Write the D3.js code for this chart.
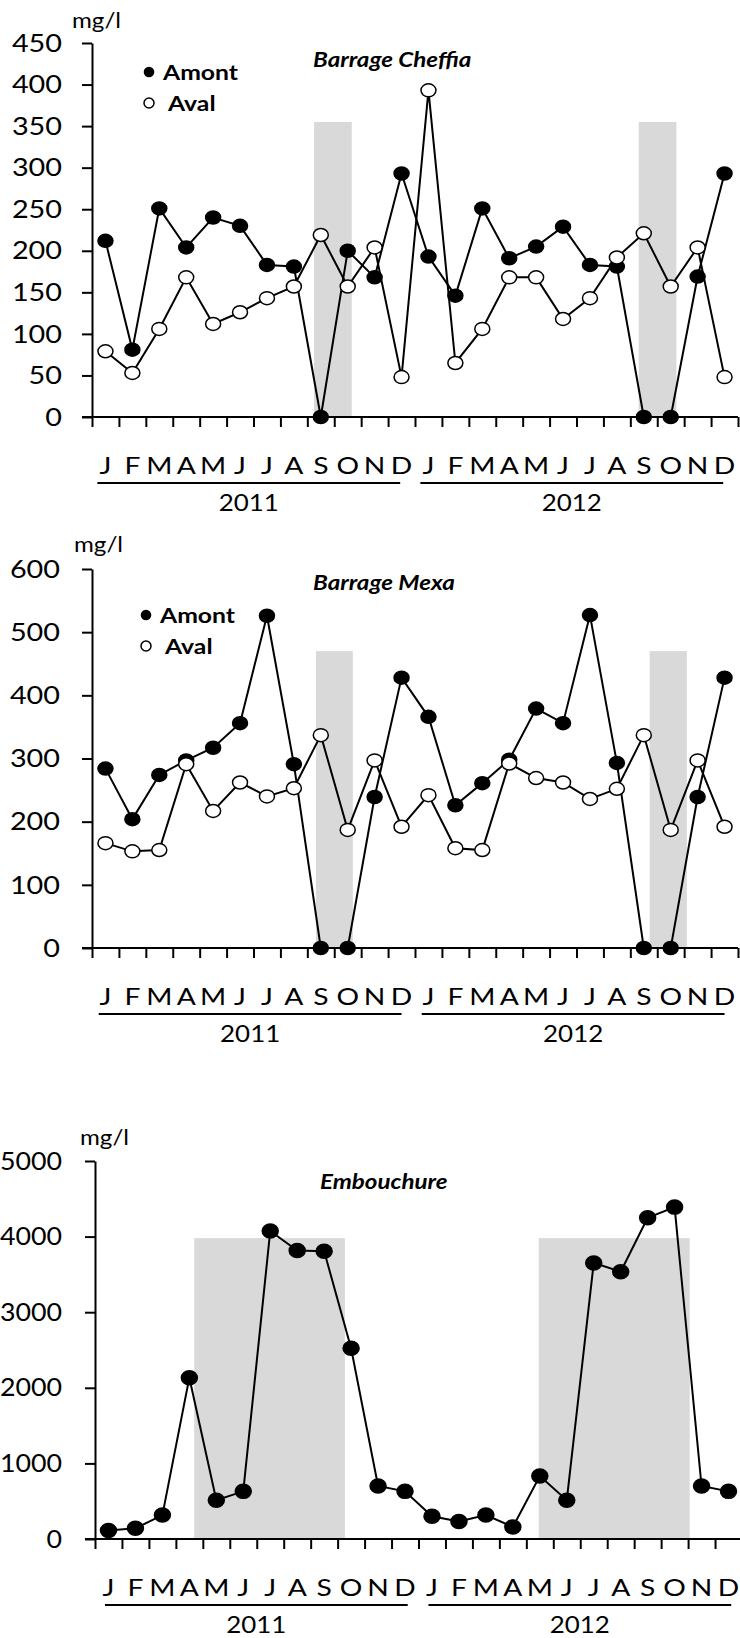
<!DOCTYPE html>
<html>
<head>
<meta charset="utf-8">
<script src="https://cdn.jsdelivr.net/npm/d3@7"></script>
<style>
  body { margin: 0; background: #fff; }
  svg { display: block; font-family: Lato, "Open Sans", sans-serif; }
</style>
</head>
<body>
<script>
// values, mg/l, J 2011 .. D 2012
var months = ["J", "F", "M", "A", "M", "J", "J", "A", "S", "O", "N", "D"];
var years = ["2011", "2012"];

var cheffiaAmont = [212, 81, 251, 204, 240, 230, 183, 181, 0, 200, 168, 293,
                    193, 146, 251, 191, 205, 229, 183, 181, 0, 0, 169, 293];
var cheffiaAval = [79, 53, 106, 168, 112, 126, 143, 157, 219, 157, 204, 48,
                   393, 65, 106, 168, 168, 118, 143, 192, 221, 157, 204, 48];

var mexaAmont = [284, 204, 274, 297, 317, 356, 526, 291, 0, 0, 239, 428,
                 366, 226, 261, 298, 379, 356, 527, 293, 0, 0, 239, 428];
var mexaAval = [166, 153, 155, 291, 217, 262, 240, 253, 337, 187, 297, 192,
                242, 158, 155, 292, 269, 262, 236, 252, 337, 187, 297, 192];

var embouchure = [113, 141, 316, 2134, 513, 630, 4074, 3816, 3807, 2524, 701, 630,
                  301, 231, 316, 160, 832, 513, 3652, 3535, 4249, 4390, 701, 630];

// grey periods: [from month, to month, height in mg/l]
var cheffiaShade = [[8.25, 9.65, 355], [20.31, 21.71, 355]];
var mexaShade = [[8.32, 9.69, 470], [20.72, 22.1, 470]];
var embShade = [[3.68, 9.27, 3980], [16.46, 22.06, 3980]];

var cheffiaTicks = [0, 50, 100, 150, 200, 250, 300, 350, 400, 450];
var mexaTicks = [0, 100, 200, 300, 400, 500, 600];
var embTicks = [0, 1000, 2000, 3000, 4000, 5000];

var SX = 1.15; // the source figure is a bit stretched sideways

var svg = d3.select("body").append("svg")
  .attr("width", 740)
  .attr("height", 1638);

function label(g, txt, x, y, size, anchor, weight, style, sx) {
  return g.append("text")
    .attr("transform", `translate(${x},${y}) scale(${sx || SX},1)`)
    .attr("font-size", size)
    .attr("text-anchor", anchor || "start")
    .attr("font-weight", weight || "normal")
    .attr("font-style", style || "normal")
    .attr("fill", "#000")
    .text(txt);
}

function panel(o) {
  var g = svg.append("g");
  var x = d3.scaleLinear().domain([0, 24]).range([o.x0, o.x1]);
  var y = d3.scaleLinear().domain([0, o.max]).range([o.yBase, o.yTop]);

  // shaded periods
  g.selectAll("rect.shade")
    .data(o.shade)
    .enter()
    .append("rect")
    .attr("class", "shade")
    .attr("x", d => x(d[0]))
    .attr("width", d => x(d[1]) - x(d[0]))
    .attr("y", d => y(d[2]))
    .attr("height", d => y(0) - y(d[2]))
    .attr("fill", "#d9d9d9");

  // y axis
  var yAxis = d3.axisLeft(y)
    .tickValues(o.ticks)
    .tickFormat(d3.format("d"))
    .tickSize(10)
    .tickSizeOuter(0);
  var ya = g.append("g")
    .attr("transform", `translate(${o.x0},0)`)
    .call(yAxis);
  ya.selectAll("path, line").attr("stroke", "#000").attr("stroke-width", 2);
  ya.selectAll("text")
    .attr("font-size", 25.5)
    .attr("font-family", "Lato, sans-serif")
    .attr("fill", "#000")
    .attr("x", -o.pad / o.tsx)
    .attr("transform", `scale(${o.tsx},1)`);

  // x axis, one tick between each month
  var xAxis = d3.axisBottom(x).tickValues(d3.range(25)).tickSize(10).tickFormat("");
  var xa = g.append("g")
    .attr("transform", `translate(0,${o.yBase})`)
    .call(xAxis);
  xa.select(".domain").attr("d", `M${o.x0 - 10},0H${o.x1}`);
  xa.selectAll("path, line").attr("stroke", "#000").attr("stroke-width", 2);

  // month letters, year underline and year
  for (var k = 0; k < 24; k++) {
    label(g, months[k % 12], x(k + 0.5), o.yBase + 57, 23.5, "middle", "normal", "normal", 1.2);
  }
  years.forEach(function(yr, j) {
    var a = x(j * 12 + o.ul[0]), b = x(j * 12 + o.ul[1]);
    g.append("line")
      .attr("x1", a).attr("x2", b)
      .attr("y1", o.yBase + 66).attr("y2", o.yBase + 66)
      .attr("stroke", "#000").attr("stroke-width", 2);
    label(g, yr, (a + b) / 2, o.yBase + 94, 24, "middle", "normal", "normal", 1.08);
  });

  label(g, "mg/l", o.mg[0], o.mg[1], 21);
  label(g, o.title, o.titleAt[0], o.titleAt[1], 21, "start", "bold", "italic");

  // lines then markers
  var line = d3.line().x((d, i) => x(i + 0.5)).y(d => y(d));
  o.series.forEach(function(s) {
    g.append("path")
      .datum(s.values)
      .attr("d", line)
      .attr("fill", "none")
      .attr("stroke", "#000")
      .attr("stroke-width", 2);
  });
  o.series.forEach(function(s) {
    g.selectAll(null)
      .data(s.values)
      .enter()
      .append("ellipse")
      .attr("cx", (d, i) => x(i + 0.5))
      .attr("cy", d => y(d))
      .attr("rx", o.rx)
      .attr("ry", o.ry)
      .attr("fill", s.filled ? "#000" : "#fff")
      .attr("stroke", "#000")
      .attr("stroke-width", 1.5);
  });

  // legend
  if (o.legend) {
    var L = o.legend;
    g.append("circle").attr("cx", L[0]).attr("cy", L[1]).attr("r", 5.3).attr("fill", "#000");
    label(g, "Amont", L[0] + 14, L[1] + 7.5, 21.5, "start", "bold");
    g.append("circle").attr("cx", L[0]).attr("cy", L[1] + 31).attr("r", 5)
      .attr("fill", "#fff").attr("stroke", "#000").attr("stroke-width", 1.5);
    label(g, "Aval", L[0] + 19, L[1] + 39, 21.5, "start", "bold");
  }
}

panel({
  x0: 92, x1: 738, yTop: 43, yBase: 417, max: 450, pad: 30, tsx: 1.13,
  ticks: cheffiaTicks, shade: cheffiaShade,
  ul: [0.2, 11.45],
  mg: [72, 28], title: "Barrage Cheffia", titleAt: [313, 67],
  legend: [149, 72], rx: 7.5, ry: 6.5,
  series: [{ values: cheffiaAmont, filled: true }, { values: cheffiaAval, filled: false }]
});

panel({
  x0: 92, x1: 738, yTop: 569, yBase: 948, max: 600, pad: 32, tsx: 1.13,
  ticks: mexaTicks, shade: mexaShade,
  ul: [0.25, 11.5],
  mg: [74, 552], title: "Barrage Mexa", titleAt: [313, 590],
  legend: [146, 615], rx: 7.5, ry: 6.5,
  series: [{ values: mexaAmont, filled: true }, { values: mexaAval, filled: false }]
});

panel({
  x0: 95, x1: 742, yTop: 1161, yBase: 1539, max: 5000, pad: 33, tsx: 1.05,
  ticks: embTicks, shade: embShade,
  ul: [0.37, 11.6],
  mg: [80, 1145], title: "Embouchure", titleAt: [320, 1189],
  legend: null, rx: 8, ry: 7,
  series: [{ values: embouchure, filled: true }]
});
</script>
</body>
</html>
